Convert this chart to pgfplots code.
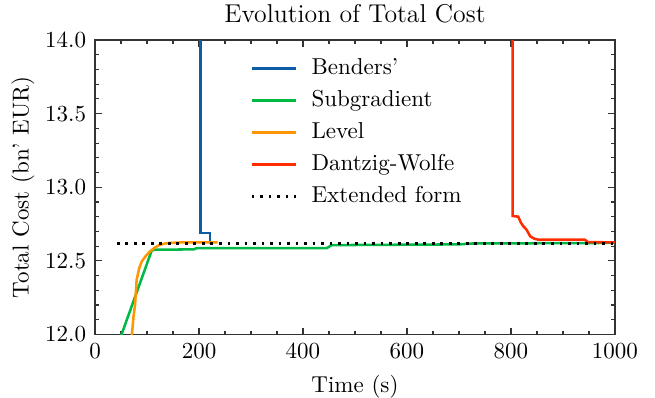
\documentclass[border=0pt]{standalone}
\usepackage{pgfplots}
\pgfplotsset{compat=1.18}
\definecolor{cblue}{HTML}{0C5DA5}
\definecolor{cgreen}{HTML}{00B945}
\definecolor{corange}{HTML}{FF9500}
\definecolor{cred}{HTML}{FF2C00}
\begin{document}
\begin{tikzpicture}
\begin{axis}[
  scale only axis,
  width=226pt, height=128pt,
  xmin=0, xmax=1000, ymin=12, ymax=14,
  xtick={0,200,400,600,800,1000},
  ytick={12,12.5,13,13.5,14},
  minor x tick num=3,
  minor y tick num=4,
  tick align=inside,
  major tick length=3pt,
  minor tick length=1.7pt,
  axis line style={line width=0.6pt, black!80},
  every tick/.style={black!80, line width=0.5pt},
  yticklabel style={/pgf/number format/.cd, fixed, fixed zerofill, precision=1},
  xticklabel style={/pgf/number format/.cd, fixed, 1000 sep={}},
  scaled y ticks=false,
  title={Evolution of Total Cost},
  every axis title shift=0pt,
  title style={font=\fontsize{11.2}{13}\selectfont, at={(0.5,1)}, anchor=south, yshift=3.5pt},
  xlabel={Time (s)},
  ylabel={Total Cost (bn' EUR)},
  ylabel style={xshift=0pt, yshift=-2.5pt},
  legend style={draw=none, fill=none, at={(0.283,0.972)}, anchor=north west, row sep=1.4pt,
    nodes={inner xsep=6pt}},
  legend cell align=left,
  legend image code/.code={\draw[#1, line width=1.1pt] (0pt,0pt) -- (19.5pt,0pt);},
  line width=1.1pt,
]
\addplot[cblue, line width=1.1pt] coordinates {
  (203,14.5) (203,12.69) (221,12.69) (221,12.625) (226,12.625)
};
\addlegendentry{Benders'}
\addplot[cgreen, line width=1.1pt] coordinates {
  (49,11.98) (51,12.0) (109,12.57) (115,12.576) (190,12.578) (195,12.586) (446,12.587) (455,12.607) (700,12.612) (725,12.618) (1000,12.622)
};
\addlegendentry{Subgradient}
\addplot[corange, line width=1.1pt] coordinates {
  (70,11.9) (71,12.0) (74,12.12) (77,12.2) (80,12.37) (85,12.45) (90,12.497) (98,12.535) (106,12.565) (115,12.59) (125,12.61) (135,12.618) (144,12.622) (170,12.626) (236,12.626)
};
\addlegendentry{Level}
\addplot[cred, line width=1.1pt] coordinates {
  (803,14.5) (803,12.805) (814,12.80) (819,12.76) (824,12.734) (830,12.712) (837,12.667) (845,12.65) (853,12.644) (942,12.644) (948,12.627) (1000,12.626)
};
\addlegendentry{Dantzig-Wolfe}
\addplot[black, line width=1.2pt, dash pattern=on 1.2pt off 2.5pt] coordinates {
  (42,12.62) (1000,12.62)
};
\addlegendentry{Extended form}
\end{axis}
\pgfresetboundingbox
\path[use as bounding box] ([shift={(-41.3pt,-27.4pt)}]current axis.south west) rectangle ([shift={(17.4pt,17.4pt)}]current axis.north east);
\end{tikzpicture}
\end{document}
